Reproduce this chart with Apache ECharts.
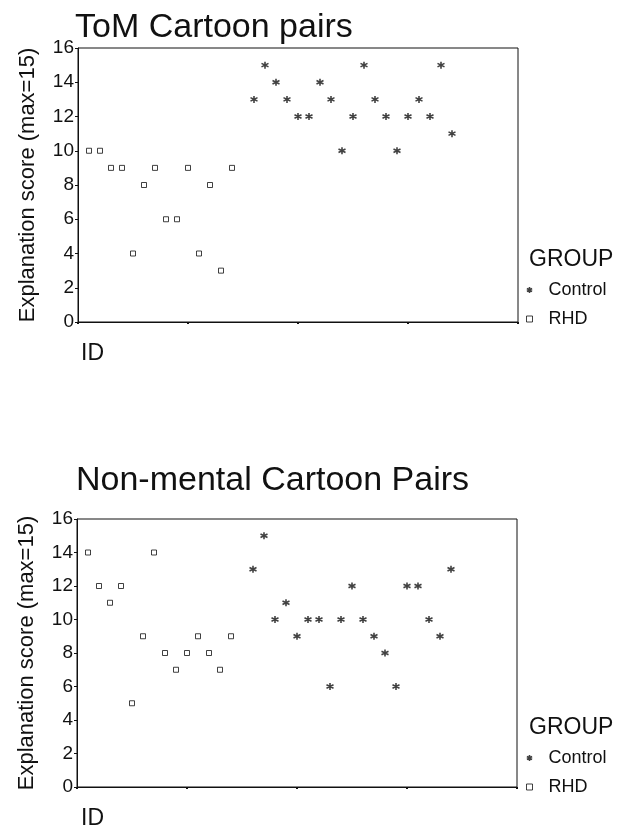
<!DOCTYPE html>
<html>
<head>
<meta charset="utf-8">
<script src="https://cdn.jsdelivr.net/npm/echarts@6/dist/echarts.min.js"></script>
<style>
html, body { margin: 0; padding: 0; background: #fff; }
#main { width: 621px; height: 827px; }
</style>
</head>
<body>
<div id="main"></div>
<script>
var chart = echarts.init(document.getElementById('main'));

// IDs on the x axis
var rhdIds = [1, 2, 3, 4, 5, 6, 7, 8, 9, 10, 11, 12, 13, 14];
var controlIds = [16, 17, 18, 19, 20, 21, 22, 23, 24, 25, 26, 27, 28, 29, 30, 31, 32, 33, 34];

// ToM cartoon pairs
var tomRhd = [10, 10, 9, 9, 4, 8, 9, 6, 6, 9, 4, 8, 3, 9];
var tomControl = [13, 15, 14, 13, 12, 12, 14, 13, 10, 12, 15, 13, 12, 10, 12, 13, 12, 15, 11];

// Non-mental cartoon pairs
var nonRhd = [14, 12, 11, 12, 5, 9, 14, 8, 7, 8, 9, 8, 7, 9];
var nonControl = [13, 15, 10, 11, 9, 10, 10, 6, 10, 12, 10, 9, 8, 6, 12, 12, 10, 9, 13];

var titles = ['ToM Cartoon pairs', 'Non-mental Cartoon Pairs'];
var groups = ['Control', 'RHD'];

var FONT = 'Liberation Sans, Arial, sans-serif';
var INK = '#111';
var starPath = 'path://M5,0L5,10M0.67,2.5L9.33,7.5M0.67,7.5L9.33,2.5';

function pairs(ids, vals) {
    var out = [];
    for (var i = 0; i < ids.length; i++) {
        out.push([ids[i], vals[i]]);
    }
    return out;
}

function xAxisFor(idx) {
    return {
        gridIndex: idx,
        type: 'value',
        min: 0, max: 40, interval: 10,
        axisLine: { show: true, lineStyle: { color: INK, width: 1 } },
        axisTick: { show: true, length: 2, lineStyle: { color: INK, width: 2 } },
        axisLabel: { show: false },
        splitLine: { show: false }
    };
}

function yAxisFor(idx) {
    return {
        gridIndex: idx,
        type: 'value',
        min: 0, max: 16, interval: 2,
        name: 'Explanation score (max=15)',
        nameLocation: 'middle',
        nameRotate: 90,
        nameGap: 39,
        nameTextStyle: { fontFamily: FONT, fontSize: 22, color: INK },
        axisLine: { show: true, lineStyle: { color: INK, width: 1 } },
        axisTick: { show: true, length: 3, lineStyle: { color: INK } },
        axisLabel: { fontFamily: FONT, fontSize: 19, color: INK, margin: 4 },
        splitLine: { show: false }
    };
}

var controlStyle = { color: 'transparent', borderColor: INK, borderWidth: 1.6 };
var rhdStyle = { color: '#fff', borderColor: INK, borderWidth: 1 };

function legendFor(top) {
    return {
        orient: 'vertical',
        left: 521,
        top: top,
        itemWidth: 6,
        itemHeight: 6,
        itemGap: 11,
        textStyle: { fontFamily: FONT, fontSize: 18, color: INK, padding: [0, 0, 0, 11] },
        data: [
            { name: groups[0], icon: starPath, itemStyle: controlStyle },
            { name: groups[1], icon: 'rect', itemStyle: rhdStyle }
        ]
    };
}

var textStyleBig = { fontFamily: FONT, fontSize: 34, fontWeight: 'normal', color: INK };
var textStyleMid = { fontFamily: FONT, fontSize: 23, fontWeight: 'normal', color: INK };

chart.setOption({
    animation: false,
    backgroundColor: '#fff',
    title: [
        { text: titles[0], left: 70, top: 6, textStyle: textStyleBig },
        { text: titles[1], left: 71, top: 459, textStyle: textStyleBig },
        { text: 'ID', left: 76, top: 337, textStyle: textStyleMid },
        { text: 'ID', left: 76, top: 802, textStyle: textStyleMid },
        { text: 'GROUP', left: 524, top: 243, textStyle: textStyleMid },
        { text: 'GROUP', left: 524, top: 711, textStyle: textStyleMid }
    ],
    legend: [legendFor(276), legendFor(744)],
    grid: [
        { left: 78, top: 48, width: 440, height: 274, show: true, borderColor: INK, borderWidth: 1 },
        { left: 77, top: 519, width: 440, height: 268, show: true, borderColor: INK, borderWidth: 1 }
    ],
    xAxis: [xAxisFor(0), xAxisFor(1)],
    yAxis: [yAxisFor(0), yAxisFor(1)],
    series: [
        {
            name: groups[0], type: 'scatter', xAxisIndex: 0, yAxisIndex: 0,
            symbol: starPath, symbolSize: 7, itemStyle: controlStyle,
            data: pairs(controlIds, tomControl)
        },
        {
            name: groups[1], type: 'scatter', xAxisIndex: 0, yAxisIndex: 0,
            symbol: 'rect', symbolSize: 5, itemStyle: rhdStyle,
            data: pairs(rhdIds, tomRhd)
        },
        {
            name: groups[0], type: 'scatter', xAxisIndex: 1, yAxisIndex: 1,
            symbol: starPath, symbolSize: 7, itemStyle: controlStyle,
            data: pairs(controlIds, nonControl)
        },
        {
            name: groups[1], type: 'scatter', xAxisIndex: 1, yAxisIndex: 1,
            symbol: 'rect', symbolSize: 5, itemStyle: rhdStyle,
            data: pairs(rhdIds, nonRhd)
        }
    ]
});
</script>
</body>
</html>
